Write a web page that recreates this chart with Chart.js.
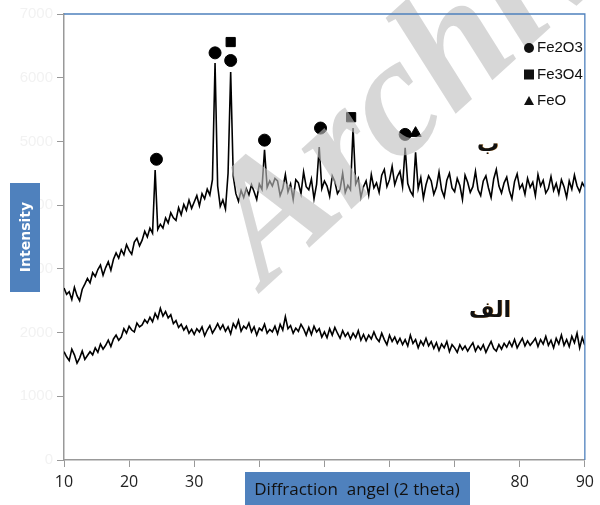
<!DOCTYPE html>
<html>
<head>
<meta charset="utf-8">
<script src="https://cdn.jsdelivr.net/npm/chart.js@4/dist/chart.umd.min.js"></script>
<style>
  body { margin: 0; background: #fff; }
  #wrap { width: 600px; height: 505px; }
</style>
</head>
<body>
<div id="wrap"><canvas id="c" width="600" height="505"></canvas></div>
<script>
// sampling grid: 10..90 deg, 0.4 deg step
const startAngle = 10;
const stepAngle = 0.4;

// sample B (upper, with peaks)
const seriesB = [
  2700, 2600, 2640, 2520, 2710, 2580, 2500, 2680, 2760, 2850,
  2780, 2940, 2880, 2990, 3060, 2900, 3020, 3110, 2980, 3150,
  3250, 3170, 3300, 3220, 3380, 3290, 3230, 3420, 3480, 3360,
  3450, 3590, 3500, 3640, 3560, 4550, 3620, 3700, 3640, 3800,
  3720, 3880, 3800, 3760, 3960, 3850, 4010, 3920, 4080, 3950,
  4050, 4150, 3990, 4180, 4100, 4250, 4160, 4400, 6230, 4300,
  3980, 4080, 3940, 4500, 6090, 4450, 4180, 4060, 4230, 4120,
  4260, 4160, 4320, 4210, 4090, 4330, 4250, 4870, 4280, 4380,
  4300, 4420, 4380, 4150, 4260, 4480, 4210, 4330, 4090, 4400,
  4350, 4180, 4520, 4290, 4240, 4410, 4100, 4330, 4910, 4260,
  4380, 4300, 4140, 4460, 4370, 4180, 4250, 4500, 4200, 4310,
  4240, 5210, 4330, 4420, 4120, 4290, 4380, 4160, 4480, 4270,
  4350, 4200, 4470, 4560, 4290, 4400, 4610, 4320, 4450, 4530,
  4290, 4900, 4340, 4220, 4150, 4830, 4260, 4430, 4110, 4320,
  4460, 4380, 4170, 4280, 4520, 4240, 4130, 4390, 4500, 4270,
  4210, 4420, 4310, 4090, 4470, 4360, 4200, 4290, 4530, 4240,
  4150, 4380, 4460, 4270, 4120, 4410, 4560, 4300, 4190, 4350,
  4440, 4230, 4100, 4370, 4490, 4260, 4330, 4170, 4420, 4280,
  4360, 4150, 4480, 4300, 4390, 4190, 4260, 4450, 4230, 4340,
  4180, 4400, 4290, 4120, 4380, 4250, 4470, 4300, 4210, 4350, 4280
];

// sample Alef (lower, amorphous)
const seriesA = [
  1700, 1620, 1560, 1740, 1650, 1520, 1600, 1710, 1580, 1640,
  1700, 1650, 1760, 1690, 1820, 1740, 1800, 1880, 1780, 1900,
  1960, 1880, 1930, 2060, 1990, 2100, 2040, 2010, 2150, 2090,
  2120, 2200, 2150, 2240, 2170, 2300, 2220, 2380, 2260, 2330,
  2230, 2280, 2140, 2190, 2080, 2130, 2040, 2100, 1990, 2050,
  1970, 2060, 2010, 2090, 1950, 2040, 2110, 1990, 2060, 2140,
  2050, 2120, 2020, 2090, 1980, 2140, 2070, 2190, 2020, 2100,
  2060, 2150, 2010, 2090, 1960, 2070, 2030, 2130, 1990, 2050,
  2010, 2100, 1980, 2130, 2040, 2250, 2060, 2110, 1990, 2070,
  2020, 2130, 2060, 1960, 2080, 1970, 2100, 2010, 2060, 1930,
  2010, 1920, 2060, 1960, 2080, 1990, 1910, 2030, 1940, 2000,
  1900, 1990, 1920, 2030, 1880, 1970, 1870, 1960, 1900, 2010,
  1910, 1860, 1990, 1890, 1810, 1960, 1860, 1930, 1830, 1910,
  1810, 1890, 1790, 1960, 1830, 1890, 1760, 1870, 1800, 1910,
  1790, 1860, 1750, 1840, 1720, 1820, 1760, 1860, 1700, 1810,
  1760, 1690, 1810, 1730, 1790, 1710, 1780, 1840, 1710, 1790,
  1730, 1810, 1690, 1780, 1860, 1750, 1710, 1810, 1740, 1830,
  1770, 1860, 1780, 1890, 1760, 1840, 1910, 1790, 1870, 1800,
  1850, 1910, 1780, 1890, 1820, 1940, 1800, 1880, 1760, 1910,
  1820, 1960, 1800, 1890, 1780, 1940, 1840, 1990, 1760, 1920, 1800
];

// phase markers above the peaks
const fe2o3Marks = [[24.2, 4720], [33.2, 6390], [35.6, 6270], [40.8, 5020], [49.4, 5210], [62.4, 5110]];
const fe3o4Marks = [[35.6, 6560], [54.1, 5380]];
const feoMarks = [[64.0, 5130]];

const xTicks = [10, 20, 30, 40, 50, 60, 70, 80, 90];
const yTicks = [0, 1000, 2000, 3000, 4000, 5000, 6000, 7000];

const legendItems = [['circle', 'Fe2O3'], ['rect', 'Fe3O4'], ['triangle', 'FeO']];

const toXY = arr => arr.map((v, i) => ({ x: startAngle + i * stepAngle, y: v }));
const toPts = arr => arr.map(p => ({ x: p[0], y: p[1] }));

const blue = '#4f81bd';

function drawMark(ctx, type, x, y, r) {
  ctx.beginPath();
  if (type === 'circle') {
    ctx.arc(x, y, r, 0, Math.PI * 2);
  } else if (type === 'rect') {
    ctx.rect(x - r, y - r, r * 2, r * 2);
  } else {
    ctx.moveTo(x, y - r);
    ctx.lineTo(x + r, y + r * 0.8);
    ctx.lineTo(x - r, y + r * 0.8);
    ctx.closePath();
  }
  ctx.fill();
}

const decor = {
  id: 'decor',
  beforeDraw(chart) {
    const ctx = chart.ctx;
    ctx.save();
    ctx.fillStyle = '#fff';
    ctx.fillRect(0, 0, chart.width, chart.height);
    ctx.restore();
  },
  afterDatasetsDraw(chart) {
    const ctx = chart.ctx;
    const a = chart.chartArea;
    // watermark
    ctx.save();
    ctx.translate(265, 288);
    ctx.rotate(-0.74);
    ctx.font = 'italic bold 170px "Liberation Serif", serif';
    ctx.fillStyle = 'rgba(190,190,190,0.62)';
    ctx.textBaseline = 'alphabetic';
    ctx.fillText('Archive', 0, 0);
    ctx.restore();

    ctx.save();
    // top and right border
    ctx.strokeStyle = blue;
    ctx.lineWidth = 1.3;
    ctx.beginPath();
    ctx.moveTo(a.left, a.top);
    ctx.lineTo(a.right, a.top);
    ctx.lineTo(a.right, a.bottom);
    ctx.stroke();

    // legend
    ctx.fillStyle = '#111';
    ctx.font = '15px "Liberation Sans", Arial, sans-serif';
    ctx.textBaseline = 'middle';
    legendItems.forEach((it, i) => {
      const y = 48 + i * 26.5;
      drawMark(ctx, it[0], 529, y, 5);
      ctx.fillText(it[1], 537, y);
    });

    // sample labels
    ctx.font = 'bold 22px "DejaVu Sans", sans-serif';
    ctx.textAlign = 'center';
    ctx.fillStyle = '#e0a050';
    ctx.fillText('ب', 488.6, 145.6);
    ctx.fillText('الف', 490.6, 311.6);
    ctx.fillStyle = '#111';
    ctx.fillText('ب', 488, 145);
    ctx.fillText('الف', 490, 311);

    // axis title boxes
    ctx.fillStyle = blue;
    ctx.fillRect(10, 183, 30, 109);
    ctx.fillRect(245, 472, 225, 33);
    ctx.fillStyle = '#fff';
    ctx.font = 'bold 14px "DejaVu Sans", sans-serif';
    ctx.save();
    ctx.translate(26, 237);
    ctx.rotate(-Math.PI / 2);
    ctx.fillText('Intensity', 0, 0);
    ctx.restore();
    ctx.fillStyle = '#111';
    ctx.font = '17px "Open Sans", "Liberation Sans", sans-serif';
    ctx.fillText('Diffraction  angel (2 theta)', 357, 490);
    ctx.restore();
  }
};

new Chart(document.getElementById('c').getContext('2d'), {
  type: 'line',
  data: {
    datasets: [
      { data: toXY(seriesB), borderColor: '#000', borderWidth: 1.6, pointRadius: 0, tension: 0, fill: false },
      { data: toXY(seriesA), borderColor: '#000', borderWidth: 1.6, pointRadius: 0, tension: 0, fill: false },
      { type: 'scatter', data: toPts(fe2o3Marks), pointStyle: 'circle', pointRadius: 6, backgroundColor: '#000', borderColor: '#000', showLine: false },
      { type: 'scatter', data: toPts(fe3o4Marks), pointStyle: 'rect', pointRadius: 6.5, backgroundColor: '#000', borderColor: '#000', showLine: false },
      { type: 'scatter', data: toPts(feoMarks), pointStyle: 'triangle', pointRadius: 6.5, backgroundColor: '#000', borderColor: '#000', showLine: false }
    ]
  },
  options: {
    responsive: false,
    animation: false,
    maintainAspectRatio: false,
    layout: { padding: { top: 14, right: 12, left: 0, bottom: 0 } },
    plugins: { legend: { display: false }, tooltip: { enabled: false } },
    scales: {
      x: {
        type: 'linear',
        min: 10,
        max: 90,
        afterBuildTicks: s => { s.ticks = xTicks.map(v => ({ value: v })); },
        afterFit: s => { s.height = 45; },
        grid: { drawOnChartArea: false, drawTicks: true, tickLength: 7, color: '#999' },
        border: { color: '#999', width: 1.5 },
        ticks: {
          color: '#222',
          font: { size: 16, family: '"Open Sans", "Liberation Sans", sans-serif' },
          padding: 6,
          maxRotation: 0
        }
      },
      y: {
        min: 0,
        max: 7000,
        afterBuildTicks: s => { s.ticks = yTicks.map(v => ({ value: v })); },
        afterFit: s => { s.width = 64; },
        grid: { drawOnChartArea: false, drawTicks: true, tickLength: 7, color: '#999' },
        border: { color: '#999', width: 1.5 },
        ticks: {
          color: '#f2f2f2',
          font: { size: 15, family: '"Liberation Sans", sans-serif' },
          padding: 4,
          callback: v => String(v)
        }
      }
    }
  },
  plugins: [decor]
});
</script>
</body>
</html>
